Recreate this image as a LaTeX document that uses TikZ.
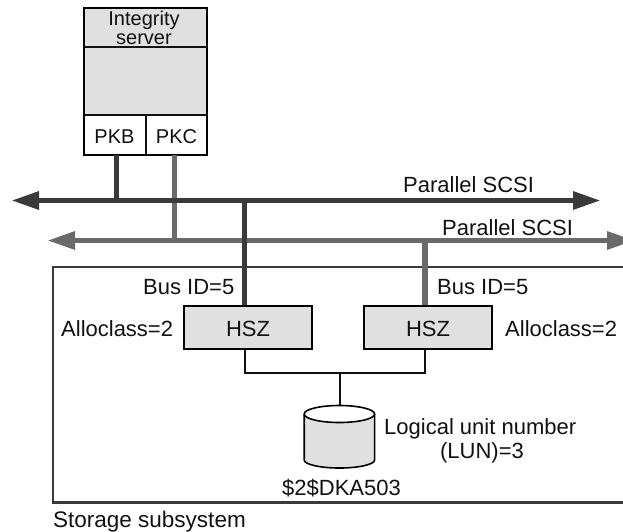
\documentclass[tikz,border=0pt]{standalone}
\usepackage{fontspec}
\setmainfont{Liberation Sans}
\usetikzlibrary{arrows.meta}
\definecolor{busdark}{HTML}{3A3A3A}
\definecolor{busgray}{HTML}{6A6A6A}
\definecolor{boxfill}{HTML}{E0E0E0}
\definecolor{inkc}{HTML}{111111}
\tikzset{
  x=1pt,y=-1pt,
  boxline/.style={draw=black,line width=2pt},
  thinline/.style={draw=inkc,line width=1.6pt},
  blockbox/.style={boxline,fill=boxfill,inner sep=0pt,minimum width=128pt,minimum height=43pt,font=\fontsize{22}{24}\selectfont},
  lbl/.style={anchor=base west,inner sep=0pt,text=inkc,font=\fontsize{22}{24}\selectfont},
  lblc/.style={anchor=base,inner sep=0pt,text=inkc,font=\fontsize{22}{24}\selectfont},
  smalllbl/.style={anchor=base,inner sep=0pt,text=inkc,font=\fontsize{20}{22}\selectfont},
  darkbus/.style={draw=busdark,line width=5.8pt},
  graybus/.style={draw=busgray,line width=5.8pt},
  busarrows/.style={{Triangle[length=28pt,width=17pt]}-{Triangle[length=28pt,width=17pt]}},
}
\begin{document}
\begin{tikzpicture}
\useasboundingbox (0,0) rectangle (623,531);
\clip (0,0) rectangle (623,531);
% bus coordinates
\coordinate (aL) at (11,200.5);
\coordinate (aR) at (601,200.5);
\coordinate (bL) at (47,240.5);
\coordinate (bR) at (635,240.5);
% storage box
\draw[draw=busdark,line width=2.8pt] (640,267) -- (53,267) -- (53,502.7) -- (640,502.7);
% server
\node[draw=none,fill=boxfill,minimum width=123pt,minimum height=107pt,inner sep=0pt] (srv) at (146,61.5) {};
\node[inner sep=0pt,minimum width=61.5pt,minimum height=40pt,fill=white] (pkb) at (115,135) {};
\node[inner sep=0pt,minimum width=61.5pt,minimum height=40pt,fill=white] (pkc) at (176.5,135) {};
\draw[boxline] (srv.north west) rectangle (pkc.south east);
\draw[thinline] (84.5,47) -- (207.5,47);
\draw[thinline] (84.5,115) -- (207.5,115);
\draw[thinline] (pkb.north east) -- (pkb.south east);
\node[smalllbl] (t1) at (144,25) {Integrity};
\node[smalllbl] (t2) at (144,44) {server};
\node[smalllbl] (t3) at (114.5,143) {PKB};
\node[smalllbl] (t4) at (176.5,143) {PKC};
% buses
\draw[graybus,busarrows] (bL) -- (bR);
\draw[graybus] (pkc.south -| 174.5,0) -- (174.5,240.5);
\draw[darkbus,busarrows] (aL) -- (aR);
\draw[darkbus] (116.5,155) -- (116.5,200.5);
% HSZ
\node[blockbox] (h1) at (248,327.5) {};
\node[blockbox] (h2) at (428,327.5) {};
\node[lblc] (h1t) at (248,336) {HSZ};
\node[lblc] (h2t) at (428,336) {HSZ};
\draw[graybus,line width=5.4pt] (425,240.5) -- (425,305);
\draw[darkbus,line width=5.4pt] (244.7,198) -- (244.7,305);
% disk
\node[inner sep=0pt,minimum width=70.5pt,minimum height=63pt] (disk) at (339.5,436.5) {};
\draw[thinline] (h1.south -| 245,0) -- (245,373) -- (425,373) -- (h2.south -| 425,0);
\draw[thinline] (340,373) -- (disk.north -| 340,0);
\draw[boxline,fill=boxfill,line width=1.6pt] (304.2,414) -- (304.2,460) arc[start angle=180,end angle=360,x radius=35.2pt,y radius=8pt] -- (374.6,414);
\draw[boxline,fill=white,line width=1.6pt] (339.4,414) ellipse[x radius=35.2pt,y radius=8.5pt];
% labels
\node[lbl] (p1) at (403,192) {Parallel SCSI};
\node[lbl] (p2) at (442,235) {Parallel SCSI};
\node[lbl] (b1) at (143,294) {Bus ID=5};
\node[lbl] (b2) at (437,294) {Bus ID=5};
\node[lbl] (c1) at (61,336) {Alloclass=2};
\node[lbl] (c2) at (505,336) {Alloclass=2};
\node[lbl] (l1) at (384,434) {Logical unit number};
\node[lblc] (l2) at (482,458) {(LUN)=3};
\node[lbl] (d1) at (282,495) {\$2\$DKA503};
\node[lbl,font=\fontsize{22.5}{24}\selectfont] (s1) at (53,527) {Storage subsystem};
\end{tikzpicture}
\end{document}
